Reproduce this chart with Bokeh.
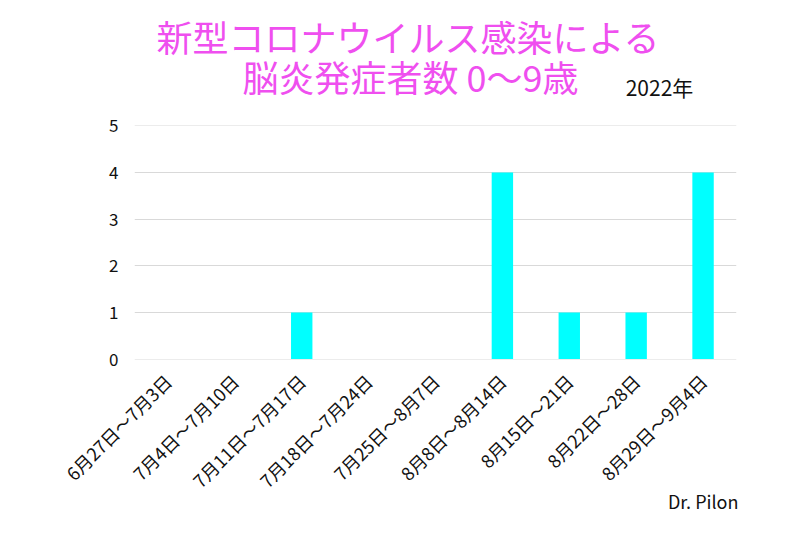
import math
from bokeh.plotting import figure
from bokeh.models import Label, ColumnDataSource, Range1d, Title
from bokeh.layouts import column
from bokeh.embed import file_html
from bokeh.resources import INLINE

categories = ["6月27日〜7月3日", "7月4日〜7月10日", "7月11日〜7月17日", "7月18日〜7月24日",
              "7月25日〜8月7日", "8月8日〜8月14日", "8月15日〜21日", "8月22日〜28日", "8月29日〜9月4日"]
counts = [0, 0, 1, 0, 0, 4, 1, 1, 4]
title_line1 = "新型コロナウイルス感染による"
title_line2 = "脳炎発症者数 0〜9歳"
year_text = "2022年"
credit = "Dr. Pilon"

FONT = "Noto Sans CJK JP"
W = 780
LEFT, RIGHT = 134, 44
HEAD_H = 109

# header: its frame is aligned with the chart frame by the column layout
head = figure(width=W, height=HEAD_H, x_range=Range1d(LEFT, W - RIGHT), y_range=Range1d(HEAD_H, 0),
              output_backend="svg", toolbar_location=None,
              x_axis_location=None, y_axis_location=None,
              min_border_left=LEFT, min_border_right=RIGHT, min_border_top=0, min_border_bottom=0)
head.xgrid.visible = False
head.ygrid.visible = False
head.outline_line_color = None
pink = "#EF4FEF"
head.add_layout(Label(x=408, y=35, text=title_line1, text_font=FONT, text_font_size="36px",
                      text_color=pink, text_align="center", text_baseline="middle"))
head.add_layout(Label(x=410, y=75, text=title_line2, text_font=FONT, text_font_size="36px",
                      text_color=pink, text_align="center", text_baseline="middle"))
head.add_layout(Label(x=659, y=86, text=year_text, text_font=FONT, text_font_size="21px",
                      text_color="#111111", text_align="center", text_baseline="middle"))

# main chart
p = figure(x_range=categories, y_range=Range1d(-0.01, 5.01), width=W, height=16 + 234 + 160,
           output_backend="svg", toolbar_location=None,
           min_border_left=LEFT, min_border_right=RIGHT, min_border_top=16, min_border_bottom=160)

src = ColumnDataSource(dict(cat=categories, val=counts))
p.vbar(x="cat", top="val", width=0.32, source=src, color="#00FFFF", line_color=None)

p.outline_line_color = None
p.xgrid.grid_line_color = None
p.ygrid.grid_line_color = "#D9D9D9"
p.ygrid.grid_line_width = 1
p.yaxis.ticker = [0, 1, 2, 3, 4, 5]
p.yaxis.axis_line_color = None
p.yaxis.major_tick_line_color = None
p.yaxis.minor_tick_line_color = None
p.yaxis.major_label_text_font = FONT
p.yaxis.major_label_text_font_size = "17px"
p.yaxis.major_label_text_color = "#111111"
p.yaxis.major_label_standoff = 10
p.xaxis.axis_line_color = None
p.xaxis.major_tick_line_color = None
p.xaxis.major_label_orientation = math.pi / 4
p.xaxis.major_label_text_font = FONT
p.xaxis.major_label_text_font_size = "18px"
p.xaxis.major_label_text_color = "#111111"
p.xaxis.major_label_standoff = 12

p.add_layout(Title(text=credit, align="right", vertical_align="top", standoff=-34, offset=-2,
                   text_font=FONT, text_font_size="18px", text_font_style="normal",
                   text_color="#111111"), "below")

layout = column(head, p, spacing=0)
open("out.html", "w").write(file_html(layout, INLINE))
